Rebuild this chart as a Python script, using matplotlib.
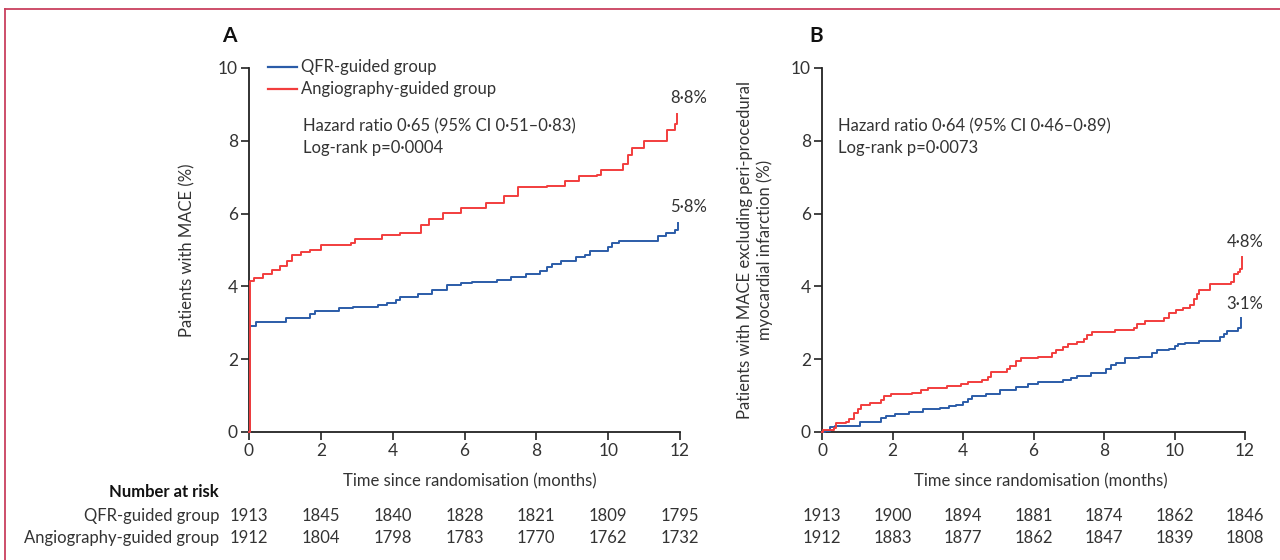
import matplotlib
matplotlib.use("Agg")
import matplotlib.pyplot as plt
from matplotlib.lines import Line2D

plt.rcParams['font.family'] = ['Lato', 'DejaVu Sans']

# ---------------- data ----------------
months = [0, 2, 4, 6, 8, 10, 12]

# Panel A: MACE (%)
qfr_a_t = [0, 0.02, 0.2, 1.04, 1.7, 1.85, 2.5, 2.9, 3.6, 3.85, 4.1, 4.2, 4.7, 5.1, 5.5, 5.9, 6.2,
           6.9, 7.3, 7.7, 8.1, 8.3, 8.45, 8.7, 9.1, 9.35, 9.5, 10.0, 10.1, 10.3, 11.4, 11.6, 11.85, 11.95]
qfr_a_v = [0, 2.91, 3.03, 3.14, 3.25, 3.32, 3.4, 3.44, 3.5, 3.55, 3.64, 3.7, 3.8, 3.9, 4.03, 4.09, 4.12,
           4.18, 4.27, 4.33, 4.42, 4.53, 4.62, 4.71, 4.82, 4.87, 4.98, 5.09, 5.18, 5.24, 5.39, 5.48, 5.55, 5.75]

ang_a_t = [0, 0.02, 0.15, 0.4, 0.65, 0.85, 1.05, 1.2, 1.45, 1.7, 2.0, 2.85, 2.95, 3.7, 4.2, 4.8, 5.0,
           5.4, 5.9, 6.6, 7.1, 7.5, 8.3, 8.8, 9.2, 9.7, 9.8, 10.4, 10.55, 10.65, 11.0, 11.65, 11.85, 11.93]
ang_a_v = [0, 4.15, 4.22, 4.35, 4.45, 4.57, 4.7, 4.87, 4.94, 5.0, 5.15, 5.2, 5.3, 5.4, 5.48, 5.7, 5.85,
           6.03, 6.15, 6.3, 6.48, 6.72, 6.77, 6.9, 7.03, 7.05, 7.2, 7.35, 7.6, 7.8, 8.0, 8.3, 8.45, 8.75]

# Panel B: MACE excluding peri-procedural MI (%)
qfr_b_t = [0, 0.08, 0.23, 0.38, 1.07, 1.67, 1.82, 2.06, 2.46, 2.86, 3.35, 3.6, 3.8, 4.0, 4.15, 4.25,
           4.64, 5.04, 5.5, 5.83, 6.13, 6.83, 7.07, 7.22, 7.62, 8.07, 8.2, 8.35, 8.6, 9.0, 9.35, 9.5,
           9.85, 10.0, 10.1, 10.3, 10.7, 11.3, 11.4, 11.5, 11.8, 11.9]
qfr_b_v = [0, 0.03, 0.14, 0.16, 0.27, 0.39, 0.45, 0.5, 0.55, 0.64, 0.66, 0.71, 0.75, 0.82, 0.91, 0.98,
           1.05, 1.15, 1.25, 1.32, 1.36, 1.42, 1.48, 1.55, 1.62, 1.73, 1.85, 1.9, 2.03, 2.07, 2.16, 2.25,
           2.27, 2.35, 2.42, 2.45, 2.5, 2.6, 2.7, 2.78, 2.85, 3.12]

ang_b_t = [0, 0.02, 0.33, 0.4, 0.67, 0.77, 0.92, 1.02, 1.12, 1.37, 1.67, 1.77, 1.96, 2.56, 2.8, 3.0,
           3.55, 3.95, 4.15, 4.55, 4.7, 4.8, 5.24, 5.34, 5.5, 5.65, 6.13, 6.53, 6.63, 6.83, 6.98, 7.22,
           7.42, 7.52, 7.67, 8.3, 8.85, 8.95, 9.15, 9.7, 9.85, 10.05, 10.25, 10.45, 10.55, 10.65, 10.7,
           11.0, 11.6, 11.7, 11.8, 11.87, 11.92]
ang_b_v = [0, 0.05, 0.12, 0.24, 0.28, 0.35, 0.53, 0.62, 0.75, 0.8, 0.89, 1.0, 1.05, 1.07, 1.15, 1.21,
           1.27, 1.33, 1.36, 1.44, 1.5, 1.64, 1.73, 1.8, 1.94, 2.03, 2.05, 2.16, 2.25, 2.33, 2.42, 2.48,
           2.55, 2.66, 2.75, 2.8, 2.87, 2.96, 3.05, 3.12, 3.27, 3.35, 3.42, 3.48, 3.66, 3.8, 3.9,
           4.07, 4.12, 4.33, 4.4, 4.48, 4.8]

risk_qfr_a = [1913, 1845, 1840, 1828, 1821, 1809, 1795]
risk_ang_a = [1912, 1804, 1798, 1783, 1770, 1762, 1732]
risk_qfr_b = [1913, 1900, 1894, 1881, 1874, 1862, 1846]
risk_ang_b = [1912, 1883, 1877, 1862, 1847, 1839, 1808]

group_labels = ["QFR-guided group", "Angiography-guided group"]
final_a = ["5·8%", "8·8%"]
final_b = ["3·1%", "4·8%"]
stats_a = "Hazard ratio 0·65 (95% CI 0·51–0·83)\nLog-rank p=0·0004"
stats_b = "Hazard ratio 0·64 (95% CI 0·46–0·89)\nLog-rank p=0·0073"

BLUE = "#2b5ca8"
RED = "#f23d3d"
TXT = "#333333"
AX = "#222222"
W, H = 1280, 560

fig = plt.figure(figsize=(W / 100, H / 100), dpi=100)

def fx(x):
    return x / W

def fy(y):
    return 1 - y / H

def make_ax(left_px, right_px):
    ax = fig.add_axes([fx(left_px), fy(432), (right_px - left_px) / W, (432 - 68) / H])
    ax.set_xlim(0, 12)
    ax.set_ylim(0, 10)
    ax.set_xticks(months)
    ax.set_yticks([0, 2, 4, 6, 8, 10])
    for s in ["top", "right"]:
        ax.spines[s].set_visible(False)
    for s in ["left", "bottom"]:
        ax.spines[s].set_color(AX)
        ax.spines[s].set_linewidth(1.3)
    ax.tick_params(direction="out", length=6, width=1.2, color=AX,
                   labelsize=12.5, labelcolor=TXT, pad=2)
    ax.patch.set_alpha(0)
    return ax

axA = make_ax(249, 680)
axB = make_ax(822, 1245)

for ax, (qt, qv, at, av) in [(axA, (qfr_a_t, qfr_a_v, ang_a_t, ang_a_v)),
                             (axB, (qfr_b_t, qfr_b_v, ang_b_t, ang_b_v))]:
    ax.step(qt, qv, where="post", color=BLUE, lw=1.4, clip_on=False, zorder=3)
    ax.step(at, av, where="post", color=RED, lw=1.4, clip_on=False, zorder=4)

# end labels
axA.text(12.25, qfr_a_v[-1] + 0.2, final_a[0], ha="center", va="bottom", fontsize=12, color=TXT)
axA.text(12.25, ang_a_v[-1] + 0.2, final_a[1], ha="center", va="bottom", fontsize=12, color=TXT)
axB.text(12.0, qfr_b_v[-1] + 0.17, final_b[0], ha="center", va="bottom", fontsize=12, color=TXT)
axB.text(12.0, ang_b_v[-1] + 0.2, final_b[1], ha="center", va="bottom", fontsize=12, color=TXT)

# stats text
fig.text(fx(303), fy(118), stats_a, ha="left", va="top", fontsize=12, color=TXT, linespacing=1.45)
fig.text(fx(838), fy(118), stats_b, ha="left", va="top", fontsize=12, color=TXT, linespacing=1.45)

# legend (panel A)
fig.add_artist(Line2D([fx(268), fx(297)], [fy(67), fy(67)], color=BLUE, lw=1.6))
fig.add_artist(Line2D([fx(268), fx(297)], [fy(89), fy(89)], color=RED, lw=1.6))
fig.text(fx(301), fy(67), group_labels[0], ha="left", va="center", fontsize=12, color=TXT)
fig.text(fx(301), fy(89), group_labels[1], ha="left", va="center", fontsize=12, color=TXT)

# panel letters
fig.text(fx(222), fy(36), "A", ha="left", va="center", fontsize=15, fontweight="bold", color="#111111")
fig.text(fx(809), fy(36), "B", ha="left", va="center", fontsize=15, fontweight="bold", color="#111111")

# axis labels
fig.text(fx(187), fy(250), "Patients with MACE (%)", rotation=90, ha="center", va="center",
         fontsize=12, color=TXT)
fig.text(fx(755), fy(250), "Patients with MACE excluding peri-procedural\nmyocardial infarction (%)",
         rotation=90, ha="center", va="center", fontsize=12, color=TXT, linespacing=1.3)
fig.text(fx(470), fy(481), "Time since randomisation (months)", ha="center", va="center",
         fontsize=12, color=TXT)
fig.text(fx(1041), fy(481), "Time since randomisation (months)", ha="center", va="center",
         fontsize=12, color=TXT)

# number at risk
fig.text(fx(219), fy(492), "Number at risk", ha="right", va="center", fontsize=12,
         fontweight="bold", color="#111111")
fig.text(fx(219), fy(516), group_labels[0], ha="right", va="center", fontsize=12, color=TXT)
fig.text(fx(219), fy(538), group_labels[1], ha="right", va="center", fontsize=12, color=TXT)

for ax, rq, ra in [(axA, risk_qfr_a, risk_ang_a), (axB, risk_qfr_b, risk_ang_b)]:
    for m, q, a in zip(months, rq, ra):
        xd = fig.transFigure.inverted().transform(ax.transData.transform((m, 0)))[0]
        fig.text(xd, fy(516), str(q), ha="center", va="center", fontsize=12, color=TXT)
        fig.text(xd, fy(538), str(a), ha="center", va="center", fontsize=12, color=TXT)

# frame border
BORDER = "#c9405e"
fig.add_artist(Line2D([fx(5), 1.0], [fy(9), fy(9)], color=BORDER, lw=1.3))
fig.add_artist(Line2D([fx(5), fx(5)], [fy(9), 0.0], color=BORDER, lw=1.3))

fig.savefig("out.png", dpi=100)
